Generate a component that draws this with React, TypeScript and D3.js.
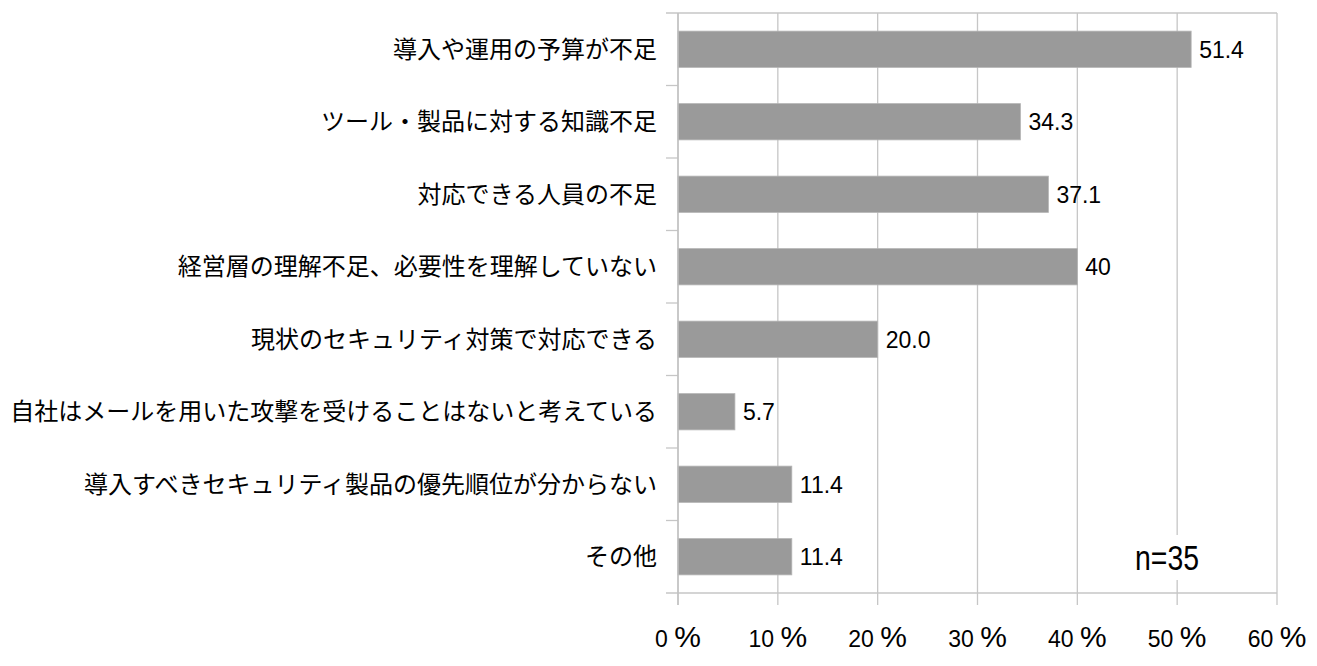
import React, { useRef, useEffect } from "react";
import * as d3 from "d3";

const categories = [
  "導入や運用の予算が不足",
  "ツール・製品に対する知識不足",
  "対応できる人員の不足",
  "経営層の理解不足、必要性を理解していない",
  "現状のセキュリティ対策で対応できる",
  "自社はメールを用いた攻撃を受けることはないと考えている",
  "導入すべきセキュリティ製品の優先順位が分からない",
  "その他",
];
const values = [51.4, 34.3, 37.1, 40, 20.0, 5.7, 11.4, 11.4];
const valueLabels = ["51.4", "34.3", "37.1", "40", "20.0", "5.7", "11.4", "11.4"];
const xTicks = [0, 10, 20, 30, 40, 50, 60];
const sampleNote = "n=35";

const width = 1317;
const height = 666;
const margin = { top: 13, right: 40, bottom: 73, left: 678 };

const App: React.FC = () => {
  const svgRef = useRef<SVGSVGElement>(null);

  useEffect(() => {
    if (!svgRef.current) return;
    const svg = d3.select(svgRef.current);
    svg.selectAll("*").remove();

    const chartHeight = height - margin.top - margin.bottom;

    const g = svg
      .append("g")
      .attr("transform", `translate(${margin.left},${margin.top})`);

    const xScale = d3.scaleLinear().domain([0, 60]).range([0, 599]);
    const yScale = d3
      .scaleBand<string>()
      .domain(categories)
      .range([0, chartHeight])
      .paddingInner(0.5)
      .paddingOuter(0.25);

    const step = yScale.step();

    // vertical gridlines + ticks below the axis
    g.selectAll(".grid")
      .data(xTicks)
      .enter()
      .append("line")
      .attr("x1", (d) => xScale(d))
      .attr("x2", (d) => xScale(d))
      .attr("y1", 0)
      .attr("y2", chartHeight + 12)
      .attr("stroke", "#c6c6c6")
      .attr("stroke-width", 1.3);

    // top and bottom horizontal lines
    [0, chartHeight].forEach((y) => {
      g.append("line")
        .attr("x1", -12)
        .attr("x2", xScale(60))
        .attr("y1", y)
        .attr("y2", y)
        .attr("stroke", "#c6c6c6")
        .attr("stroke-width", 1.3);
    });

    // category separator ticks on the left
    g.selectAll(".ytick")
      .data(d3.range(1, categories.length))
      .enter()
      .append("line")
      .attr("x1", -12)
      .attr("x2", 0)
      .attr("y1", (i) => i * step)
      .attr("y2", (i) => i * step)
      .attr("stroke", "#c6c6c6")
      .attr("stroke-width", 1.3);

    // bars
    g.selectAll(".bar")
      .data(values)
      .enter()
      .append("rect")
      .attr("x", xScale(0))
      .attr("y", (d, i) => yScale(categories[i])!)
      .attr("width", (d) => xScale(d) - xScale(0))
      .attr("height", yScale.bandwidth())
      .attr("fill", "#9a9a9a")
      .attr("stroke", "#b4b4b4")
      .attr("stroke-width", 0.8);

    // left axis line
    g.append("line")
      .attr("x1", 0)
      .attr("x2", 0)
      .attr("y1", 0)
      .attr("y2", chartHeight + 12)
      .attr("stroke", "#c0c0c0")
      .attr("stroke-width", 1.3);

    // value labels
    g.selectAll(".val")
      .data(values)
      .enter()
      .append("text")
      .attr("x", (d) => xScale(d) + 8)
      .attr("y", (d, i) => yScale(categories[i])! + yScale.bandwidth() / 2)
      .attr("dy", "0.36em")
      .style("font-family", "'Liberation Sans', Arial, sans-serif")
      .style("font-size", "23px")
      .attr("fill", "#000")
      .text((d, i) => valueLabels[i]);

    // category labels
    g.selectAll(".cat")
      .data(categories)
      .enter()
      .append("text")
      .attr("x", -21)
      .attr("y", (d) => yScale(d)! + yScale.bandwidth() / 2)
      .attr("dy", "0.36em")
      .style("text-anchor", "end")
      .style("font-family", "'Noto Sans CJK JP', sans-serif")
      .style("font-size", "24px")
      .attr("fill", "#000")
      .text((d) => d);

    // x tick labels: "0 %" with a larger percent sign
    const tickLabels = g
      .selectAll(".xlab")
      .data(xTicks)
      .enter()
      .append("text")
      .attr("x", (d) => xScale(d))
      .attr("y", chartHeight + 54)
      .style("text-anchor", "middle")
      .style("font-family", "'Liberation Sans', Arial, sans-serif")
      .attr("fill", "#000");
    tickLabels
      .append("tspan")
      .style("font-size", "23px")
      .text((d) => `${d} `);
    tickLabels
      .append("tspan")
      .style("font-size", "30px")
      .text("%");

    // sample size note with white backing
    g.append("rect")
      .attr("x", 1125 - margin.left)
      .attr("y", 535 - margin.top)
      .attr("width", 85)
      .attr("height", 45)
      .attr("fill", "#fff");
    g.append("text")
      .attr("x", 1135 - margin.left)
      .attr("y", 570 - margin.top)
      .attr("textLength", 64)
      .attr("lengthAdjust", "spacingAndGlyphs")
      .style("font-family", "'Liberation Sans', Arial, sans-serif")
      .style("font-size", "35px")
      .attr("fill", "#000")
      .text(sampleNote);
  }, []);

  return (
    <svg
      ref={svgRef}
      width={width}
      height={height}
      style={{ position: "absolute", left: 0, top: 0, background: "#fff" }}
    />
  );
};

export default App;
